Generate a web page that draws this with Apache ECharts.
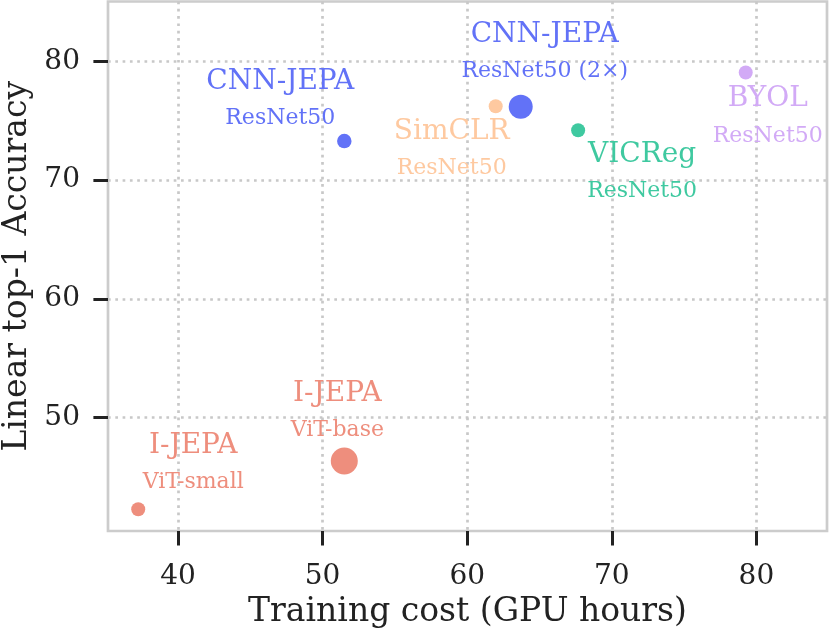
<!DOCTYPE html>
<html>
    <head>
        <meta charset="utf-8">
        <title>Training cost vs accuracy</title>
        <style>
            html, body { margin: 0; padding: 0; background: #fff; }
            #chart1 { width: 830px; height: 631px; }
        </style>
    </head>
    <body>
        <div id="chart1"></div>
        <script src="https://cdn.jsdelivr.net/npm/echarts@6/dist/echarts.min.js"></script>
        <script type="text/javascript">
            // values
            var methods   = ['I-JEPA', 'I-JEPA', 'CNN-JEPA', 'SimCLR', 'CNN-JEPA', 'VICReg', 'BYOL'];
            var backbones = ['ViT-small', 'ViT-base', 'ResNet50', 'ResNet50', 'ResNet50 (2\u00d7)', 'ResNet50', 'ResNet50'];
            var gpuHours  = [37.25, 51.5, 51.5, 61.97, 63.7, 67.67, 79.26];
            var top1      = [42.28, 46.35, 73.29, 76.23, 76.18, 74.21, 79.07];
            var xTicks    = [40, 50, 60, 70, 80];
            var yTicks    = [50, 60, 70, 80];

            // styling only
            var colors = {
                'I-JEPA': '#ee8e7d',
                'CNN-JEPA': '#6272f7',
                'SimCLR': '#fec9a0',
                'VICReg': '#3fc9a0',
                'BYOL': '#d2aaf6'
            };
            var markerSize  = [14, 27, 14.5, 14, 24, 14, 14];
            var labelOffset = [[55, -45], [-7, -49], [-64, -41], [-44, 44], [24, -54], [64, 43], [22, 45]];

            var font = 'DejaVu Serif';
            var points = [];
            for (var i = 0; i < methods.length; i++) {
                var c = colors[methods[i]];
                points.push({
                    value: [gpuHours[i], top1[i]],
                    symbolSize: markerSize[i],
                    itemStyle: { color: c, opacity: 1 },
                    label: {
                        show: true,
                        position: 'inside',
                        offset: labelOffset[i],
                        formatter: '{n|' + methods[i] + '}\n{s|' + backbones[i] + '}',
                        align: 'center',
                        rich: {
                            n: { fontFamily: font, fontSize: 28, color: c, lineHeight: 37, align: 'center' },
                            s: { fontFamily: font, fontSize: 22, color: c, lineHeight: 37, align: 'center' }
                        }
                    }
                });
            }

            var myChart1 = echarts.init(document.getElementById('chart1'));
            myChart1.setOption({
                animation: false,
                backgroundColor: '#ffffff',
                grid: {
                    left: 108, right: 3, top: 1.5, bottom: 100,
                    show: true, borderColor: '#cccccc', borderWidth: 2.7,
                    containLabel: false,
                    outerBoundsMode: 'none'
                },
                xAxis: {
                    type: 'value',
                    min: 35.16, max: 84.88,
                    name: 'Training cost (GPU hours)',
                    nameLocation: 'middle',
                    nameGap: 62,
                    nameTextStyle: { fontFamily: font, fontSize: 33, color: '#222' },
                    axisLine: { show: false },
                    axisTick: { show: true, length: 14.6, customValues: xTicks, lineStyle: { color: '#222', width: 3 } },
                    axisLabel: { customValues: xTicks, fontFamily: font, fontSize: 28, color: '#222', margin: 32 },
                    splitLine: { show: true, lineStyle: { color: '#c8c8c8', width: 2.7, type: [2.7, 4.6] } }
                },
                yAxis: {
                    type: 'value',
                    min: 40.45, max: 85.05,
                    name: 'Linear top-1 Accuracy',
                    nameLocation: 'middle',
                    nameGap: 72,
                    nameTextStyle: { fontFamily: font, fontSize: 33, color: '#222' },
                    axisLine: { show: false },
                    axisTick: { show: true, length: 14.6, customValues: yTicks, lineStyle: { color: '#222', width: 3 } },
                    axisLabel: { customValues: yTicks, fontFamily: font, fontSize: 28, color: '#222', margin: 28 },
                    splitLine: { show: true, lineStyle: { color: '#c8c8c8', width: 2.7, type: [2.7, 4.6] } }
                },
                series: [{
                    type: 'scatter',
                    data: points,
                    z: 3
                }]
            });
        </script>
    </body>
</html>
